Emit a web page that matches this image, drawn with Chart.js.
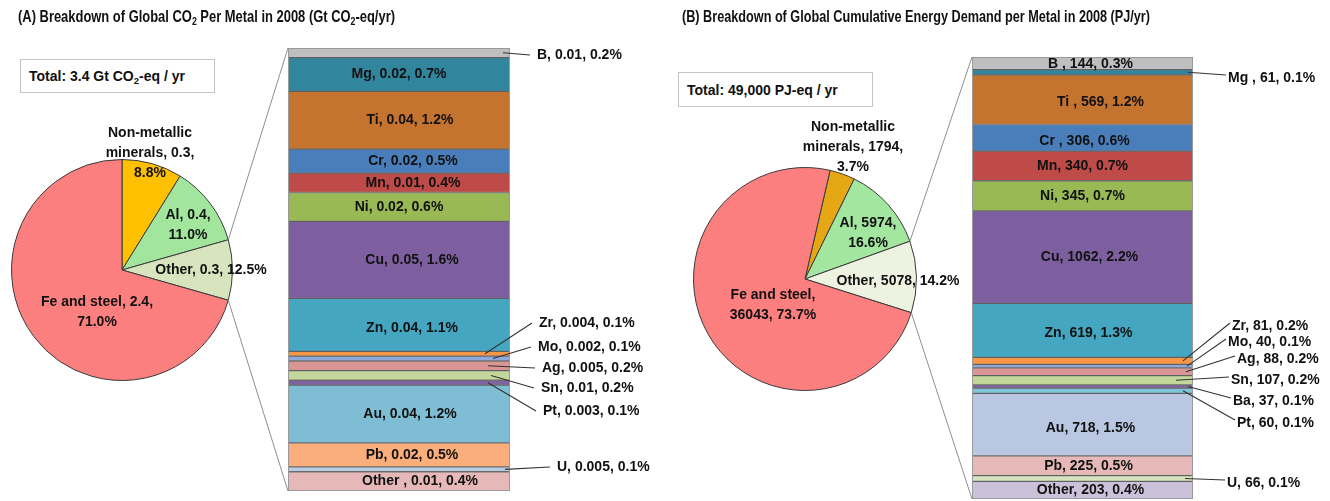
<!DOCTYPE html>
<html><head><meta charset="utf-8">
<script src="https://cdn.jsdelivr.net/npm/chart.js@4.4.0/dist/chart.umd.min.js"></script>
<style>
html,body{margin:0;padding:0;background:#fff;}
#wrap{position:relative;width:1330px;height:501px;overflow:hidden;font-family:"Liberation Sans",Arial,sans-serif;background:#fff;}
canvas{position:absolute;left:0;top:0;}
.title{position:absolute;font-weight:bold;font-size:17px;line-height:20px;white-space:nowrap;transform-origin:0 50%;color:#111;}
.total{position:absolute;border:1px solid #c4c4c4;box-sizing:border-box;font-weight:bold;font-size:14px;color:#111;background:#fff;white-space:nowrap;padding-left:8px;}
.total span{position:absolute;left:8px;top:50%;transform:translateY(-50%);}
sub{font-size:0.68em;vertical-align:-0.3em;line-height:0;}
</style></head>
<body><div id="wrap">
<canvas id="pieA" width="1330" height="501"></canvas>
<canvas id="barA" width="1330" height="501"></canvas>
<canvas id="pieB" width="1330" height="501"></canvas>
<canvas id="barB" width="1330" height="501"></canvas>
<div class="title" data-w="377" style="left:18px;top:7px">(A) Breakdown of Global CO<sub>2</sub> Per Metal in 2008 (Gt CO<sub>2</sub>-eq/yr)</div>
<div class="title" data-w="468" style="left:682px;top:7px">(B) Breakdown of Global Cumulative Energy Demand per Metal in 2008 (PJ/yr)</div>
<div class="total" style="left:20px;top:59px;width:195px;height:34px"><span>Total: 3.4 Gt CO<sub>2</sub>-eq / yr</span></div>
<div class="total" style="left:678px;top:72px;width:195px;height:35px"><span>Total: 49,000 PJ-eq / yr</span></div>
</div>
<script>
// ---------------- DATA ----------------
const pieA_names  = ["Non-metallic minerals", "Al", "Other", "Fe and steel"];
const pieA_values = [0.3, 0.4, 0.3, 2.4];
const pieA_pct    = ["8.8%", "11.0%", "12.5%", "71.0%"];

const barA_names  = ["B", "Mg", "Ti", "Cr", "Mn", "Ni", "Cu", "Zn", "Zr", "Mo", "Ag", "Sn", "Pt", "Au", "Pb", "U", "Other "];
const barA_values = ["0.01", "0.02", "0.04", "0.02", "0.01", "0.02", "0.05", "0.04", "0.004", "0.002", "0.005", "0.01", "0.003", "0.04", "0.02", "0.005", "0.01"];
const barA_pct    = [0.2, 0.7, 1.2, 0.5, 0.4, 0.6, 1.6, 1.1, 0.1, 0.1, 0.2, 0.2, 0.1, 1.2, 0.5, 0.1, 0.4];

const pieB_names  = ["Non-metallic minerals", "Al", "Other", "Fe and steel"];
const pieB_values = [1794, 5974, 5078, 36043];
const pieB_pct    = ["3.7%", "16.6%", "14.2%", "73.7%"];

const barB_names  = ["B ", "Mg ", "Ti ", "Cr ", "Mn", "Ni", "Cu", "Zn", "Zr", "Mo", "Ag", "Sn", "Ba", "Pt", "Au", "Pb", "U", "Other"];
const barB_values = [144, 61, 569, 306, 340, 345, 1062, 619, 81, 40, 88, 107, 37, 60, 718, 225, 66, 203];
const barB_pct    = [0.3, 0.1, 1.2, 0.6, 0.7, 0.7, 2.2, 1.3, 0.2, 0.1, 0.2, 0.2, 0.1, 0.1, 1.5, 0.5, 0.1, 0.4];

// ---------------- STYLE / LAYOUT ----------------
const FONT = 'bold 14px "Liberation Sans", Arial, sans-serif';
function hatch(base, dot){
  const c=document.createElement('canvas'); c.width=c.height=4;
  const x=c.getContext('2d'); x.fillStyle=base; x.fillRect(0,0,4,4);
  x.fillStyle=dot; x.fillRect(0,0,1,1); x.fillRect(2,2,1,1); x.fillRect(1,3,1,1); x.fillRect(3,1,1,1);
  return x.createPattern(c,'repeat');
}
const pieA_colors = ["#FFC000", "#A2E69D", "#D7E4BD", hatch("#FF8282", "#F77777")];
const pieB_colors = ["#E6A714", "#A3E6A0", "#EEF2E1", hatch("#FF8282", "#F77777")];
const barA_colors = ["#BFBFBF","#31859C","#C5742F","#4A7EBB","#BE4B48","#98B954","#7D5FA0","#45A6C1","#F79646","#8EA9DB","#D99694","#C3D69B","#8064A2","#7EBDD3","#F9AE7B","#B9CDE5","#E6B9B8"];
const barB_colors = ["#BFBFBF","#31859C","#C5742F","#4A7EBB","#BE4B48","#98B954","#7D5FA0","#45A6C1","#F79646","#8EA9DB","#D99694","#C3D69B","#8064A2","#7DC5D8","#B9C7E3","#E6B9B8","#D7E4BD","#CCC1DA"];

// pie label placement (offset from pie centre, wrap width)
const pieA_lbl = [{dx:28,dy:-117,w:105},{dx:66,dy:-45,w:70},{dx:89,dy:0,w:200},{dx:-25,dy:42,w:130}];
const pieB_lbl = [{dx:48,dy:-132,w:118},{dx:63,dy:-46,w:80},{dx:93,dy:2,w:200},{dx:-32,dy:26,w:100}];
// inside-bar label nudges
const barA_in = {Ti:11,Cr:14,Mn:14,Cu:13,Zn:13,Au:11,Pb:13,Other:21};
const barB_in = {B:8,Ti:18,Cr:2,Cu:7,Zn:6,Au:8,Pb:6,Other:8};
const barA_dy = {Zn:3};
const barB_dy = {B:1,Ti:2,Cr:3,Zn:3,Au:3};
// outside labels: tx = text left offset from bar right, ty = text y, sx = leader start offset from bar right
const barA_out = {B:{tx:27,ty:55,sx:-7},Zr:{tx:29,ty:323,sx:-25},Mo:{tx:28,ty:347,sx:-17},Ag:{tx:32,ty:368,sx:-22},Sn:{tx:31,ty:388,sx:-19},Pt:{tx:33,ty:411,sx:-22},U:{tx:47,ty:467,sx:-5}};
const barB_out = {Mg:{tx:35,ty:78,sx:-5},Zr:{tx:39,ty:326,sx:-10},Mo:{tx:35,ty:342,sx:-6},Ag:{tx:44,ty:359,sx:-7},Sn:{tx:38,ty:380,sx:-17},Ba:{tx:40,ty:401,sx:-5},Pt:{tx:44,ty:423,sx:-10},U:{tx:34,ty:483,sx:-8}};

function wrapDraw(ctx, text, cx, cy, maxW, lh){
  const words=text.split(' '); const lines=[]; let cur='';
  for(const w of words){ const t=cur?cur+' '+w:w;
    if(cur && ctx.measureText(t).width>maxW){ lines.push(cur); cur=w; } else cur=t; }
  lines.push(cur);
  const y0=cy-(lines.length-1)*lh/2;
  lines.forEach((l,i)=>ctx.fillText(l,cx,y0+i*lh));
}

function makePie(id, names, values, pct, colors, lbl, pad, rotation){
  return new Chart(document.getElementById(id), {
    type:'pie',
    data:{labels:names, datasets:[{data:values, backgroundColor:colors, borderColor:'#3a3a3a', borderWidth:1}]},
    options:{responsive:false, animation:false, rotation:rotation, layout:{padding:pad},
      plugins:{legend:{display:false}, tooltip:{enabled:false}}},
    plugins:[{id:'pl'+id, afterDatasetsDraw(chart){
      const ctx=chart.ctx; const arcs=chart.getDatasetMeta(0).data;
      ctx.save(); ctx.font=FONT; ctx.fillStyle='#111'; ctx.textAlign='center'; ctx.textBaseline='middle';
      arcs.forEach((a,i)=>{ const L=lbl[i];
        wrapDraw(ctx, names[i]+', '+values[i]+', '+pct[i], a.x+L.dx, a.y+L.dy, L.w, 20); });
      ctx.restore(); }}]
  });
}

function makeBar(id, names, vals, heights, pct, colors, pad, pie, inDx, inDy, out, gap, endDy){
  const total=heights.reduce((s,v)=>s+v,0);
  return new Chart(document.getElementById(id), {
    type:'bar',
    data:{labels:[''], datasets:names.map((n,i)=>({label:n, data:[heights[i]], backgroundColor:colors[i],
      borderColor:'rgba(70,70,70,0.75)', borderWidth:1, borderSkipped:false, categoryPercentage:1, barPercentage:1}))},
    options:{responsive:false, animation:false, layout:{padding:pad},
      scales:{x:{stacked:true, display:false}, y:{stacked:true, display:false, min:0, max:total, reverse:true}},
      plugins:{legend:{display:false}, tooltip:{enabled:false}}},
    plugins:[{id:'bl'+id, afterDatasetsDraw(chart){
      const ctx=chart.ctx; const ca=chart.chartArea;
      ctx.save();
      ctx.strokeStyle='#9a9a9a'; ctx.lineWidth=1;
      ctx.strokeRect(ca.left+0.5, ca.top+0.5, ca.right-ca.left-1, ca.bottom-ca.top-1);
      // connectors from pie "Other" slice
      const arcs=pie.getDatasetMeta(0).data;
      const pt=(a,ang)=>[a.x+a.outerRadius*Math.cos(ang), a.y+a.outerRadius*Math.sin(ang)];
      const p1=pt(arcs[2], arcs[2].startAngle), p2=pt(arcs[2], arcs[2].endAngle);
      ctx.strokeStyle='#8f8f8f'; ctx.lineWidth=1;
      ctx.beginPath(); ctx.moveTo(p1[0],p1[1]); ctx.lineTo(ca.left, ca.top); ctx.stroke();
      ctx.beginPath(); ctx.moveTo(p2[0],p2[1]); ctx.lineTo(ca.left, ca.bottom); ctx.stroke();
      ctx.font=FONT; ctx.fillStyle='#111'; ctx.textBaseline='middle';
      chart.data.datasets.forEach((ds,i)=>{
        const el=chart.getDatasetMeta(i).data[0];
        const p=el.getProps(['x','y','base','width'],true);
        const cy=(p.y+p.base)/2, right=p.x+p.width/2, key=names[i].trim();
        const text=names[i]+', '+vals[i]+', '+pct[i].toFixed(1)+'%';
        const o=out[key];
        if(o){
          ctx.strokeStyle='#333'; ctx.lineWidth=1.1;
          ctx.beginPath(); ctx.moveTo(right+o.sx, cy); ctx.lineTo(right+o.tx-gap, o.ty+endDy); ctx.stroke();
          ctx.textAlign='left'; ctx.fillText(text, right+o.tx, o.ty);
        } else {
          ctx.textAlign='center'; ctx.fillText(text, p.x+(inDx[key]||0), cy+(inDy[key]||0));
        }
      });
      ctx.restore(); }}]
  });
}

const W=1330, H=501;
const pieA = makePie('pieA', pieA_names, pieA_values, pieA_pct, pieA_colors, pieA_lbl,
  {left:11, right:W-11-222, top:159, bottom:H-159-222}, 0);
makeBar('barA', barA_names, barA_values, barA_pct, barA_pct, barA_colors,
  {left:288, right:W-510, top:48, bottom:H-491}, pieA, barA_in, barA_dy, barA_out, 7, 0);
const pieB = makePie('pieB', pieB_names, pieB_values, pieB_pct, pieB_colors, pieB_lbl,
  {left:693, right:W-693-224, top:167, bottom:H-167-224}, 13);
makeBar('barB', barB_names, barB_values, barB_values, barB_pct, barB_colors,
  {left:972, right:W-1193, top:57, bottom:H-499}, pieB, barB_in, barB_dy, barB_out, 2, -3);

document.querySelectorAll('.title').forEach(el=>{
  const target=+el.dataset.w; const w=el.getBoundingClientRect().width;
  el.style.transform='scaleX('+(target/w)+')';
});
</script>
</body></html>
